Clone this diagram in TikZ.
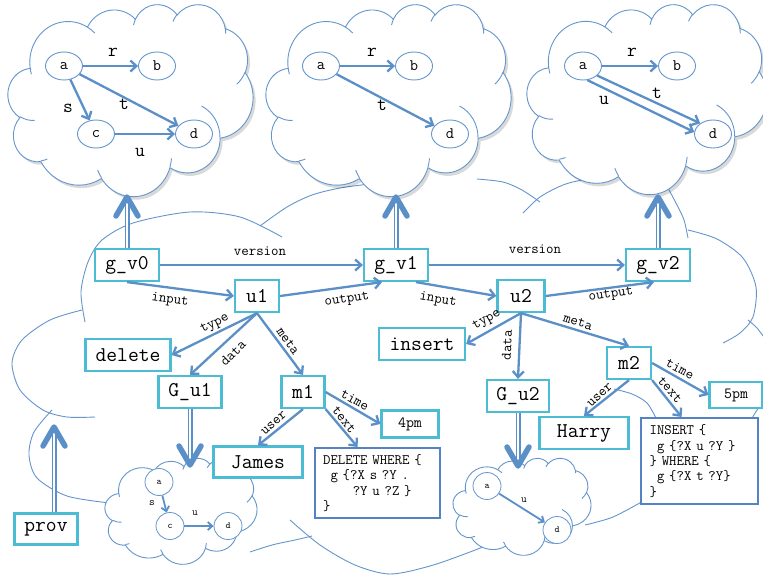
\documentclass[tikz,border=0pt]{standalone}
\usepackage{fontspec}
\usetikzlibrary{arrows.meta,calc,shapes.geometric}

\definecolor{ablue}{HTML}{5B8FC8}
\definecolor{cblue}{HTML}{6496CD}
\definecolor{bcyan}{HTML}{4CBCD4}
\definecolor{qblue}{HTML}{5482C4}

% OOXML-style arc: radii, visual start angle, sweep
\newcommand\oa[4]{arc[x radius=#1,y radius=#2,start angle={atan2(#1*sin(#3),#2*cos(#3))},delta angle={Mod(atan2(#1*sin(#3+#4),#2*cos(#3+#4))-atan2(#1*sin(#3),#2*cos(#3)),360)}]}

\newcommand\cloudmain{(3.900,14.370) \oa{6.753}{9.190}{-190.48748}{123.78053} \oa{5.333}{7.267}{-144.10238}{89.94523} \oa{4.365}{5.945}{-145.80792}{99.72302} \oa{4.857}{6.595}{-130.98607}{117.24173} \oa{5.333}{7.273}{-78.70888}{109.02692} \oa{6.775}{9.220}{-46.26725}{130.269} \oa{5.785}{7.867}{0.62502}{114.03333} \oa{6.752}{9.215}{22.4516}{115.17255} \oa{7.720}{10.543}{66.24263}{75.71102} \oa{4.360}{5.918}{-274.94208}{146.73557} \oa{4.345}{5.945}{-246.8285}{152.51885} -- cycle}

\newcommand\cloudcrease{(4.693,26.177) \oa{4.345}{5.945}{86.742}{26.4295} (6.928,34.899) \oa{4.360}{5.918}{73.61047}{11.44747} (16.478,39.090) \oa{6.752}{9.215}{137.62415}{14.0811} (28.827,34.751) \oa{6.752}{9.215}{6.45327}{15.99835} (34.129,22.954) \oa{5.785}{7.867}{-70.29235}{70.91737} (41.798,15.354) \oa{5.333}{7.273}{30.31803}{27.7515} (38.324,5.426) \oa{4.857}{6.595}{-13.74433}{14.8589} (29.078,3.952) \oa{4.857}{6.595}{-149.18145}{18.19537} (22.141,4.720) \oa{4.365}{5.945}{-163.49427}{17.68635} (14.000,5.192) \oa{6.753}{9.190}{-66.70695}{12.31935} (4.127,15.789) \oa{6.753}{9.190}{157.65435}{11.85817}}

% #1 shadow flag, #2 x0, #3 y0, #4 width, #5 height
\newcommand\ppcloud[5]{%
  \pgfmathsetmacro\cwu{#4/43.2}%
  \pgfmathsetmacro\chu{#5/43.2}%
  \ifnum#1=1
  \begin{scope}[shift={(#2+2.5,#3+3)}, x=\cwu pt, y=-\chu pt]
    \fill[black, opacity=0.15] \cloudmain;
  \end{scope}
  \fi
  \begin{scope}[shift={(#2,#3)}, x=\cwu pt, y=-\chu pt]
    \filldraw[fill=white, draw=cblue, line width=0.9pt] \cloudmain;
    \draw[cblue, line width=0.9pt] \cloudcrease;
  \end{scope}}

\newcommand\fbig{\fontsize{21}{24}\selectfont\ttfamily}
\newcommand\fmid{\fontsize{15.5}{18}\selectfont\ttfamily}
\newcommand\flbl{\fontsize{14.5}{16}\selectfont\ttfamily}
\newcommand\fcode{\fontsize{14.4}{15.4}\selectfont\ttfamily}
\newcommand\fcn{\fontsize{16}{16}\selectfont\ttfamily}
\newcommand\fcl{\fontsize{19}{19}\selectfont\ttfamily}
\newcommand\fsn{\fontsize{9.5}{9.5}\selectfont\ttfamily}
\newcommand\fsl{\fontsize{11}{11}\selectfont\ttfamily}

\tikzset{
  bx/.style={draw=bcyan, line width=2.2pt, fill=white, inner sep=0pt, font=\fbig, minimum height=32},
  qbx/.style={draw=qblue, line width=2.2pt, fill=white, font=\fcode, align=left, inner xsep=8pt, inner ysep=2pt, anchor=north west},
  conn/.style={draw=ablue, line width=2.3pt, -{Straight Barb[length=6pt,width=11pt]}},
  lbl/.style={font=\flbl, inner sep=0.5pt},
  cnode/.style={ellipse, draw=cblue, line width=0.9pt, fill=white, minimum width=37, minimum height=28, inner sep=0pt, font=\fcn},
  carr/.style={draw=ablue, line width=2.3pt, -{Straight Barb[length=6pt,width=11pt]}},
  clbl/.style={font=\fcl, inner sep=0pt},
  snode/.style={ellipse, draw=cblue, line width=0.8pt, fill=white, minimum width=28, minimum height=27, inner sep=0pt, font=\fsn},
  sarr/.style={draw=ablue, line width=1.8pt, -{Straight Barb[length=4.5pt,width=8pt]}},
  slbl/.style={font=\fsl, inner sep=0pt},
  dshaft/.style={draw=ablue, line width=1.6pt, double=white, double distance=1.8pt},
  bighead/.style={draw=ablue, line width=5.5pt, line cap=round, line join=round},
  bgarc/.style={draw=cblue, line width=0.9pt},
}

\begin{document}
\begin{tikzpicture}[x=1pt, y=-1pt]
\useasboundingbox (0,0) rectangle (763,576);
\fill[white] (0,0) rectangle (763,576);

% ---- background cloud arcs ----
\draw[bgarc] plot[smooth] coordinates {(85,322) (81,292) (88,262) (102,240) (133,223) (190,212) (240,217) (282,237)};
\draw[bgarc] plot[smooth] coordinates {(260,226) (287,207) (312,195) (340,188) (370,184)};
\draw[bgarc] plot[smooth] coordinates {(477,179) (503,182) (522,190) (540,202)};
\draw[bgarc] plot[smooth] coordinates {(523,213) (540,197) (563,185) (583,180) (610,178)};
\draw[bgarc] plot[smooth] coordinates {(668,188) (677,205) (684,220) (688,238)};
\draw[bgarc] plot[smooth] coordinates {(688,230) (717,239) (743,258) (756,287) (753,317) (740,333) (723,343)};
\draw[bgarc] plot[smooth] coordinates {(748,320) (757,328) (766,340)};
\draw[bgarc] plot[smooth] coordinates {(614,389) (632,394) (647,403) (657,420)};
\draw[bgarc] plot[smooth] coordinates {(766,400) (757,410) (750,422)};
\draw[bgarc] plot[smooth] coordinates {(585,525) (613,517) (645,500)};
\draw[bgarc] plot[smooth] coordinates {(290,520) (320,545) (355,565) (390,574) (430,566) (470,552) (500,540)};
\draw[bgarc] plot[smooth] coordinates {(250,552) (272,545) (295,540) (312,536)};
\draw[bgarc] plot[smooth] coordinates {(82,310) (50,320) (22,340) (12,363) (20,390) (43,410) (67,417) (95,417)};
\draw[bgarc] plot[smooth] coordinates {(52,410) (34,432) (29,455) (37,478) (67,496) (110,503)};

% ---- top clouds ----
\ppcloud{1}{8}{4}{245}{192}
\ppcloud{1}{266}{4}{245}{192}
\ppcloud{1}{527}{4}{240}{190}

% top-left graph
\node[cnode] (a1) at (64,66) {a};
\node[cnode] (b1) at (157,66) {b};
\node[cnode] (c1) at (96,134) {c};
\node[cnode] (d1) at (194,134) {d};
\draw[carr] (a1) -- (b1);
\draw[carr] (a1) -- (c1);
\draw[carr] (a1) -- (d1);
\draw[carr] (c1) -- (d1);
\node[clbl] (lr1) at (113,52) {r};
\node[clbl] (ls1) at (68,108) {s};
\node[clbl] (lt1) at (124,104) {t};
\node[clbl] (lu1) at (140,152) {u};

% top-middle graph
\node[cnode] (a2) at (321,66) {a};
\node[cnode] (b2) at (414,66) {b};
\node[cnode] (d2) at (450,134) {d};
\draw[carr] (a2) -- (b2);
\draw[carr] (a2) -- (d2);
\node[clbl] (lr2) at (372,52) {r};
\node[clbl] (lt2) at (382,105) {t};

% top-right graph
\node[cnode] (a3) at (583,66) {a};
\node[cnode] (b3) at (677,66) {b};
\node[cnode] (d3) at (713,134) {d};
\draw[carr] (a3) -- (b3);
\draw[carr] (a3.-34) -- (d3.140);
\draw[carr] (a3.-73) -- (d3.174);
\node[clbl] (lr3) at (632,52) {r};
\node[clbl] (lt3) at (657,93) {t};
\node[clbl] (lu3) at (604,100) {u};

% ---- small clouds ----
\ppcloud{0}{105}{458}{152}{106}
\ppcloud{0}{453}{458}{138}{97}
\node[snode] (sa) at (159,482) {a};
\node[snode] (sc) at (170,526) {c};
\node[snode] (sd) at (228,526) {d};
\draw[sarr] (sa) -- (sc);
\draw[sarr] (sc) -- (sd);
\node[slbl] (lss) at (152,503) {s};
\node[slbl] (lsu) at (195,513) {u};
\node[snode] (ma) at (487,486) {a};
\node[snode] (md) at (557,530) {d};
\draw[sarr] (ma) -- (md);
\node[slbl] (lmu) at (524,500) {u};

% ---- boxes ----
\node[bx, minimum width=64] (gv0) at (127,265) {g\_v0};
\node[bx, minimum width=64] (gv1) at (396,265) {g\_v1};
\node[bx, minimum width=64] (gv2) at (658,265) {g\_v2};
\node[bx, minimum width=44] (u1) at (257,296) {u1};
\node[bx, minimum width=47] (u2) at (521,296) {u2};
\node[bx, minimum width=85] (del) at (128,355) {delete};
\node[bx, minimum width=86] (ins) at (422,344) {insert};
\node[bx, minimum width=63] (gu1) at (190,392) {G\_u1};
\node[bx, minimum width=43] (m1) at (303,392) {m1};
\node[bx, minimum width=62] (gu2) at (518,396) {G\_u2};
\node[bx, minimum width=44] (m2) at (629,363) {m2};
\node[bx, minimum width=89, minimum height=31] (james) at (258,462) {James};
\node[bx, minimum width=89] (harry) at (584,433) {Harry};
\node[bx, font=\fmid, minimum width=57, minimum height=27] (p4) at (410,424) {4pm};
\node[bx, font=\fmid, minimum width=53, minimum height=26] (p5) at (736,395) {5pm};
\node[bx, minimum width=63, minimum height=31] (prov) at (46,529) {prov};
\node[qbx, minimum width=125, minimum height=70, text width=109pt] (delq) at (314,447)
  {DELETE WHERE \{\\\phantom{x}g \{?X s ?Y .\\\phantom{xxxx}?Y u ?Z \}\\\}};
\node[qbx, minimum width=117, minimum height=86, text width=100pt, inner xsep=8.5pt] (insq) at (640,417)
  {INSERT \{\\\phantom{x}g \{?X u ?Y \}\\\} WHERE \{\\\phantom{x}g \{?X t ?Y\}\\\}};

% ---- connectors ----
\draw[conn] (gv0) -- (gv1);
\draw[conn] (gv1) -- (gv2);
\draw[conn] (gv0.south) -- (u1.west);
\draw[conn] (u1.east) -- ($(gv1.south)+(-14,0)$);
\draw[conn] ($(gv1.south)+(20,0)$) -- (u2.west);
\draw[conn] (u2.east) -- ($(gv2.south)+(-4,0)$);
\draw[conn] (u1.south) -- (del.east);
\draw[conn] (u1.south) -- (gu1.north);
\draw[conn] (u1.south) -- (m1.north);
\draw[conn] (u2.south) -- (ins.east);
\draw[conn] (u2.south) -- (gu2.north);
\draw[conn] (u2.south) -- (m2.north);
\draw[conn] (m1.east) -- (p4.west);
\draw[conn] (m1.south) -- (james.north);
\draw[conn] (m1.south east) -- ($(delq.north)+(-20,0)$);
\draw[conn] (m2.east) -- (p5.west);
\draw[conn] (m2.south) -- (harry.north);
\draw[conn] (m2.south east) -- ($(insq.north)+(-18,0)$);

% ---- connector labels ----
\node[lbl] (lv1) at (260,251) {version};
\node[lbl] (lv2) at (535,249) {version};
\node[lbl, rotate=-7.8] (li1) at (170,300) {input};
\node[lbl, rotate=8.3] (lo1) at (347,300) {output};
\node[lbl, rotate=-10.4] (li2) at (438,300) {input};
\node[lbl, rotate=7.8] (lo2) at (611,295) {output};
\node[lbl, rotate=26.3] (lty1) at (215,324) {type};
\node[lbl, rotate=44] (lda1) at (233,353) {data};
\node[lbl, rotate=-54.9] (lme1) at (288,341) {meta};
\node[lbl, rotate=29.9] (lty2) at (487,320) {type};
\node[lbl, rotate=87.5] (lda2) at (507,345) {data};
\node[lbl, rotate=-17.3] (lme2) at (578,322) {meta};
\node[lbl, rotate=-28.9] (lti1) at (355,400) {time};
\node[lbl, rotate=41.5] (lus1) at (274,423) {user};
\node[lbl, rotate=-51.3] (ltx1) at (344,420) {text};
\node[lbl, rotate=-28.2] (lti2) at (680,369) {time};
\node[lbl, rotate=42.9] (lus2) at (600,395) {user};
\node[lbl, rotate=-49] (ltx2) at (670,390) {text};

% ---- double arrows ----
\coordinate (tA) at (127,197);
\coordinate (tB) at (396,197);
\coordinate (tC) at (658,197);
\coordinate (tD) at (190,465);
\coordinate (tE) at (518,466);
\coordinate (tP) at (54,427);
\draw[dshaft] (gv0.north) -- (tA);
\draw[dshaft] (gv1.north) -- (tB);
\draw[dshaft] (gv2.north) -- (tC);
\draw[dshaft] (gu1.south) -- (tD);
\draw[dshaft] (gu2.south) -- (tE);
\draw[dshaft] (tP |- prov.north) -- (tP);
\draw[bighead] ($(tA)+(-11,19)$) -- (tA) -- ($(tA)+(11,19)$);
\draw[bighead] ($(tB)+(-11,19)$) -- (tB) -- ($(tB)+(11,19)$);
\draw[bighead] ($(tC)+(-11,19)$) -- (tC) -- ($(tC)+(11,19)$);
\draw[bighead] ($(tP)+(-11,19)$) -- (tP) -- ($(tP)+(11,19)$);
\draw[bighead] ($(tD)+(-11,-19)$) -- (tD) -- ($(tD)+(11,-19)$);
\draw[bighead] ($(tE)+(-11,-19)$) -- (tE) -- ($(tE)+(11,-19)$);
\end{tikzpicture}
\end{document}
